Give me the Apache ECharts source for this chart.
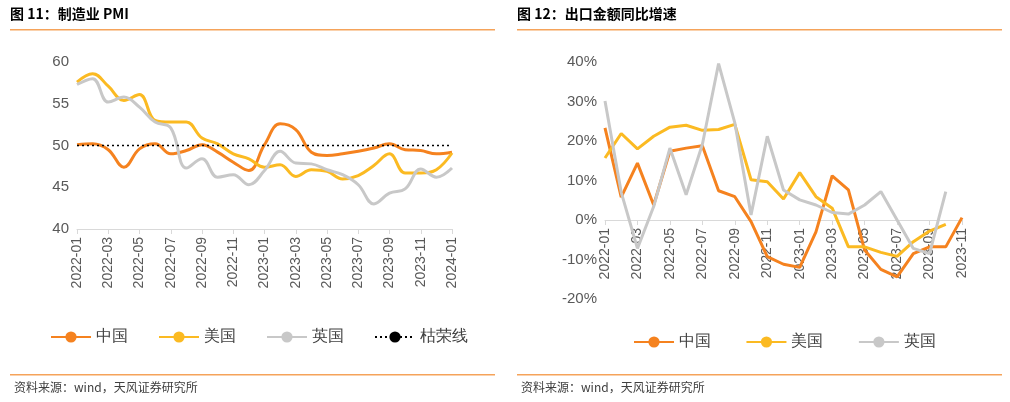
<!DOCTYPE html><html><head><meta charset="utf-8"><script src="https://cdn.jsdelivr.net/npm/echarts@6/dist/echarts.min.js"></script></head><body style="margin:0"><div id="c" style="width:1010px;height:402px"></div><script>
const months1=[];for(let y=2022;y<=2024;y++)for(let m=1;m<=12;m++){if(y===2024&&m>1)break;months1.push(y+'-'+String(m).padStart(2,'0'));}
const months2=months1.slice(0,23);
const pmiChina=[50.1,50.2,49.5,47.4,49.6,50.2,49.0,49.4,50.1,49.2,48.0,47.0,50.1,52.6,51.9,49.2,48.8,49.0,49.3,49.7,50.2,49.5,49.4,49.0,49.2];
const pmiUS=[57.6,58.6,57.1,55.4,56.1,53.0,52.8,52.8,50.9,50.2,49.0,48.4,47.4,47.7,46.3,47.1,46.9,46.0,46.4,47.6,49.0,46.7,46.7,47.1,49.1];
const pmiUK=[57.3,58.0,55.2,55.8,54.6,52.8,52.1,47.3,48.4,46.2,46.5,45.3,47.0,49.3,47.9,47.8,47.1,46.5,45.3,43.0,44.3,44.8,47.2,46.2,47.3];
const boomLine=months1.map(()=>50);
const expChina=[23.3,5.8,14.4,3.8,17.4,18.2,18.8,7.4,5.9,-0.4,-9.3,-11.2,-12.0,-3.0,11.2,7.6,-7.6,-12.5,-14.4,-8.5,-6.8,-6.8,0.6];
const expUS=[15.7,21.9,18.0,21.2,23.5,24.0,22.7,22.9,24.2,10.2,9.7,5.3,12.0,5.9,3.0,-6.8,-6.8,-8.2,-9.2,-5.5,-2.8,-1.1,null];
const expUK=[30.1,7,-7.2,3.4,18.2,6.4,19.1,39.6,24.6,1.3,21.2,7.6,5.1,3.8,1.9,1.5,3.8,7.2,0,-7.2,-8.5,7.2,null];
const C1='#F5821F',C2='#FBBA22',C3='#C8C8C8';
const font='"Liberation Sans", Arial, sans-serif';
const ax={axisTick:{show:true,lineStyle:{color:'#d9d9d9'}},axisLabel:{color:'#595959',fontSize:14,rotate:90,interval:1,fontFamily:font}};
const ay={splitLine:{show:false},axisLine:{show:false},axisTick:{show:false},axisLabel:{color:'#595959',fontSize:15,fontFamily:font}};
const lg={itemWidth:40,itemHeight:14,itemGap:30,textStyle:{fontSize:16,color:'#404040'}};
const ch=echarts.init(document.getElementById('c'));
ch.setOption({animation:false,textStyle:{fontFamily:font},
grid:[{left:77,width:375,top:62,height:167},{left:605,width:357,top:62,height:237}],
xAxis:[Object.assign({gridIndex:0,type:'category',data:months1,boundaryGap:false,axisLine:{lineStyle:{color:'#d9d9d9'}}},ax),
 Object.assign({gridIndex:1,type:'category',data:months2,boundaryGap:false,offset:-79,axisLine:{onZero:false,lineStyle:{color:'#d9d9d9'}}},ax)],
yAxis:[Object.assign({gridIndex:0,type:'value',min:40,max:60,interval:5},ay),
 Object.assign({gridIndex:1,type:'value',min:-20,max:40,interval:10},ay,{axisLabel:{color:'#595959',fontSize:15,fontFamily:font,formatter:'{value}%'}})],
legend:[Object.assign({data:['中国','美国','英国','枯荣线'],left:45,top:324},lg),
 Object.assign({data:['中国 ','美国 ','英国 '],left:628,top:329},lg)],
series:[
{name:'中国',type:'line',smooth:0.4,xAxisIndex:0,yAxisIndex:0,data:pmiChina,symbol:'none',lineStyle:{width:3,color:C1},itemStyle:{color:C1}},
{name:'美国',type:'line',smooth:0.4,xAxisIndex:0,yAxisIndex:0,data:pmiUS,symbol:'none',lineStyle:{width:3,color:C2},itemStyle:{color:C2}},
{name:'英国',type:'line',smooth:0.4,xAxisIndex:0,yAxisIndex:0,data:pmiUK,symbol:'none',lineStyle:{width:3,color:C3},itemStyle:{color:C3}},
{name:'枯荣线',type:'line',xAxisIndex:0,yAxisIndex:0,data:boomLine,symbol:'none',lineStyle:{width:1.5,color:'#000',type:[2,3]},itemStyle:{color:'#000'}},
{name:'中国 ',type:'line',xAxisIndex:1,yAxisIndex:1,data:expChina,symbol:'none',lineStyle:{width:3,color:C1},itemStyle:{color:C1}},
{name:'美国 ',type:'line',xAxisIndex:1,yAxisIndex:1,data:expUS,symbol:'none',lineStyle:{width:3,color:C2},itemStyle:{color:C2}},
{name:'英国 ',type:'line',xAxisIndex:1,yAxisIndex:1,data:expUK,symbol:'none',lineStyle:{width:3,color:C3},itemStyle:{color:C3}}
],
graphic:[
{type:'text',left:10,top:7,style:{text:'图 11：制造业 PMI',font:'bold 14px "Noto Sans CJK SC"',fill:'#000'}},
{type:'text',left:517,top:7,style:{text:'图 12：出口金额同比增速',font:'bold 14px "Noto Sans CJK SC"',fill:'#000'}},
{type:'rect',shape:{x:10,y:29,width:485,height:1.5},style:{fill:'#F5A35A'}},
{type:'rect',shape:{x:517,y:29,width:485,height:1.5},style:{fill:'#F5A35A'}},
{type:'rect',shape:{x:10,y:374,width:485,height:1.5},style:{fill:'#F5A35A'}},
{type:'rect',shape:{x:517,y:374,width:485,height:1.5},style:{fill:'#F5A35A'}},
{type:'text',left:14,top:381,style:{text:'资料来源：wind，天风证券研究所',font:'12px "Noto Sans CJK SC"',fill:'#404040'}},
{type:'text',left:521,top:381,style:{text:'资料来源：wind，天风证券研究所',font:'12px "Noto Sans CJK SC"',fill:'#404040'}}
]});
</script></body></html>
